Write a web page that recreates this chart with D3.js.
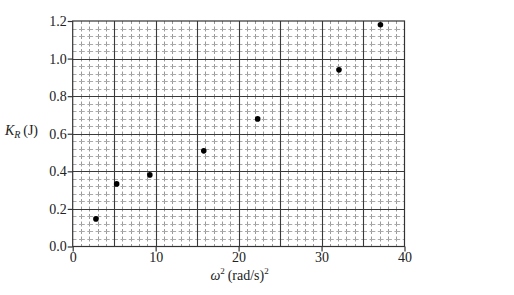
<!DOCTYPE html>
<html>
<head>
<meta charset="utf-8">
<script src="https://cdn.jsdelivr.net/npm/d3@7"></script>
<style>
  body { margin: 0; background: #fff; }
  text { font-family: "Liberation Serif", "Times New Roman", serif; fill: #222; }
</style>
</head>
<body>
<div id="chart"></div>
<script>
// data
const omegaSq = [2.8, 5.3, 9.3, 15.8, 22.3, 32.1, 37.1];
const kineticR = [0.147, 0.333, 0.381, 0.509, 0.679, 0.94, 1.18];
const xTicks = [0, 10, 20, 30, 40];
const yTicks = [0, 0.2, 0.4, 0.6, 0.8, 1.0, 1.2];

const width = 514, height = 295;
const margin = {left: 72.7, right: 109.5, top: 21, bottom: 48.5};

const svg = d3.select('#chart').append('svg')
    .attr('width', width)
    .attr('height', height);

const x = d3.scaleLinear().domain([0, 40]).range([margin.left, width - margin.right]);
const y = d3.scaleLinear().domain([0, 1.2]).range([height - margin.bottom, margin.top]);

const grid = svg.append('g');

// minor grid, dashed
const minorX = d3.range(0, 40.01, 1).filter(d => d % 5 !== 0);
const minorY = d3.range(0, 1.2001, 0.04).filter((d, i) => i % 5 !== 0);

grid.selectAll('.vminor').data(minorX).enter().append('line')
    .attr('x1', d => Math.round(x(d)) + 0.5).attr('x2', d => Math.round(x(d)) + 0.5)
    .attr('y1', y(1.2)).attr('y2', y(0))
    .attr('stroke', '#9a9a9a').attr('stroke-width', 1)
    .attr('stroke-dasharray', '5,2.5')
    .attr('stroke-dashoffset', 2);

grid.selectAll('.hminor').data(minorY).enter().append('line')
    .attr('y1', d => Math.round(y(d)) + 0.5).attr('y2', d => Math.round(y(d)) + 0.5)
    .attr('x1', x(0)).attr('x2', x(40))
    .attr('stroke', '#aaaaaa').attr('stroke-width', 1)
    .attr('stroke-dasharray', '5.8,2.5')
    .attr('stroke-dashoffset', 2);

// major grid
grid.selectAll('.vmajor').data(d3.range(5, 40, 5)).enter().append('line')
    .attr('x1', d => Math.round(x(d)) + 0.5).attr('x2', d => Math.round(x(d)) + 0.5)
    .attr('y1', y(1.2)).attr('y2', y(0))
    .attr('stroke', '#3a3a3a').attr('stroke-width', 1.1);

grid.selectAll('.hmajor').data(yTicks.slice(1, -1)).enter().append('line')
    .attr('y1', d => Math.round(y(d)) + 0.5).attr('y2', d => Math.round(y(d)) + 0.5)
    .attr('x1', x(0)).attr('x2', x(40))
    .attr('stroke', '#3a3a3a').attr('stroke-width', 1.1);

// frame
svg.append('rect')
    .attr('x', x(0)).attr('y', y(1.2))
    .attr('width', x(40) - x(0)).attr('height', y(0) - y(1.2))
    .attr('fill', 'none').attr('stroke', '#333').attr('stroke-width', 1.2);

// axes
const xAxis = svg.append('g')
    .attr('transform', 'translate(0,' + y(0) + ')')
    .call(d3.axisBottom(x).tickValues(xTicks).tickSize(5).tickPadding(1).tickFormat(d3.format('d')));
const yAxis = svg.append('g')
    .attr('transform', 'translate(' + x(0) + ',0)')
    .call(d3.axisLeft(y).tickValues(yTicks).tickSize(5).tickPadding(1).tickFormat(d3.format('.1f')));

[xAxis, yAxis].forEach(a => {
  a.attr('font-family', null).attr('font-size', null);
  a.select('.domain').remove();
  a.selectAll('line').attr('stroke', '#333').attr('stroke-width', 1.2);
  a.selectAll('text').style('font-size', '14px').attr('fill', '#222');
});

// points
svg.selectAll('circle').data(omegaSq).enter().append('circle')
    .attr('cx', d => x(d))
    .attr('cy', (d, i) => y(kineticR[i]))
    .attr('r', 2.8)
    .attr('fill', '#000');

// axis labels
const yl = svg.append('text')
    .attr('x', 5).attr('y', 135)
    .style('font-size', '14px');
yl.append('tspan').style('font-style', 'italic').text('K');
yl.append('tspan').style('font-style', 'italic').style('font-size', '10px').attr('dy', 3).text('R');
yl.append('tspan').attr('dy', -3).text('\u2009(J)');

const xl = svg.append('text')
    .attr('x', x(20) + 1).attr('y', 280)
    .attr('text-anchor', 'middle')
    .style('font-size', '14px');
xl.append('tspan').style('font-style', 'italic').text('\u03c9');
xl.append('tspan').style('font-size', '9px').attr('dy', -6).text('2');
xl.append('tspan').attr('dy', 6).text('\u2009(rad/s)');
xl.append('tspan').style('font-size', '9px').attr('dy', -6).text('2');
</script>
</body>
</html>
